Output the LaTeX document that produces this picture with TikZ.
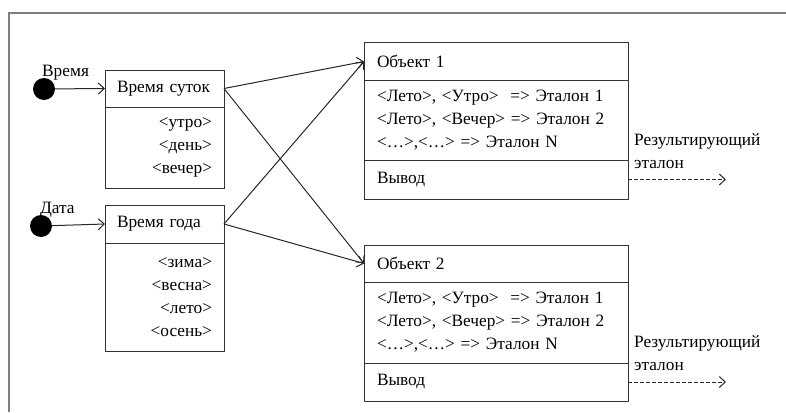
\documentclass[tikz,border=0pt]{standalone}
\usepackage{fontspec}
\setmainfont{Liberation Serif}
\usetikzlibrary{arrows.meta,calc}
\begin{document}
\begin{tikzpicture}[x=1pt,y=-1pt,
  font=\fontsize{17.3}{23}\selectfont,
  sec/.style={draw=black!80, line width=1pt, rectangle, inner ysep=0pt, outer sep=0pt},
  small/.style={sec, minimum width=119pt, text width=95pt, inner xsep=12pt},
  big/.style={sec, minimum width=264pt, text width=238pt, inner xsep=13pt, align=left},
  dot/.style={circle, fill=black, minimum size=22pt, inner sep=0pt},
  arr/.style={-{Straight Barb[length=6pt,width=11pt]}, line width=1pt, black!85},
  darr/.style={arr, dash pattern=on 3.5pt off 2.5pt},
  lbl/.style={inner sep=0pt, anchor=base west}]
\useasboundingbox (0,0) rectangle (786,412);
% frame
\draw[black!50, line width=1.6pt] (9,412) -- (9,13) -- (786,13);

% left boxes
\node[small, minimum height=37pt, align=left, anchor=north west] (sut) at (105,70) {Время суток};
\node[small, minimum height=81pt, align=right, anchor=north] (sutB) at (sut.south) {<утро>\\<день>\\<вечер>};
\node[small, minimum height=38pt, align=left, anchor=north west] (god) at (105,205) {Время года};
\node[small, minimum height=108pt, align=right, anchor=north] (godB) at (god.south) {<зима>\\<весна>\\<лето>\\<осень>};

% dots
\node[dot] (d1) at (44,89) {};
\node[dot] (d2) at (41,226) {};
\node[lbl] (l1) at (42,76) {Время};
\node[lbl] (l2) at (40,213) {Дата};
\draw[arr] (d1) -- (sut.west);
\draw[arr] (d2) -- (god.west);

% object 1
\node[big, minimum height=37pt, anchor=north west] (o1) at (364,43) {Объект 1};
\node[big, minimum height=80pt, anchor=north] (o1B) at (o1.south) {<Лето>, <Утро> \ => Эталон 1\\<Лето>, <Вечер> => Эталон 2\\<…>,<…> => Эталон N};
\node[big, minimum height=39pt, anchor=north] (o1C) at (o1B.south) {Вывод\\[-2pt]};
% object 2
\node[big, minimum height=37pt, anchor=north west] (o2) at (364,245) {Объект 2};
\node[big, minimum height=81pt, anchor=north] (o2B) at (o2.south) {<Лето>, <Утро> \ => Эталон 1\\<Лето>, <Вечер> => Эталон 2\\<…>,<…> => Эталон N};
\node[big, minimum height=38pt, anchor=north] (o2C) at (o2B.south) {Вывод\\[-2pt]};

% connectors
\draw[arr] (sut.east) -- (o1.west);
\draw[arr] (sut.east) -- (o2.west);
\draw[arr] (god.east) -- (o1.west);
\draw[arr] (god.east) -- (o2.west);

% outputs
\coordinate (e1) at (726,0 |- o1C.east);
\coordinate (e2) at (726,0 |- o2C.east);
\draw[darr] (o1C.east) -- (e1);
\draw[darr] (o2C.east) -- (e2);
\node[lbl, align=left, anchor=north west] (r1) at (634,133) {Результирующий\\эталон};
\node[lbl, align=left, anchor=north west] (r2) at (634,335) {Результирующий\\эталон};
\end{tikzpicture}
\end{document}
